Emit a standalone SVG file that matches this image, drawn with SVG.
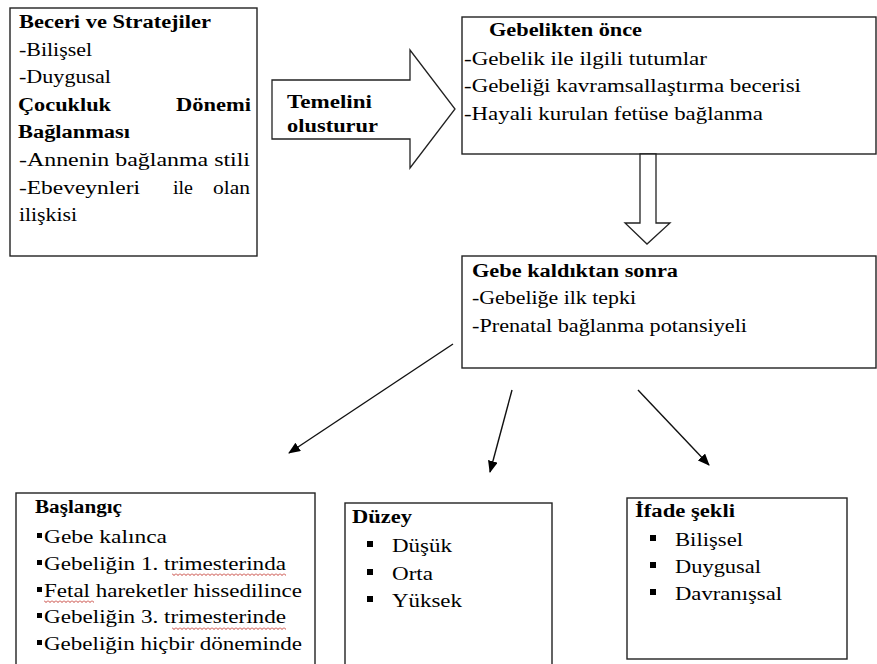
<svg xmlns="http://www.w3.org/2000/svg" width="877" height="664" viewBox="0 0 877 664">
<style>
.box{fill:#fff;stroke:#222;stroke-width:1.4}
.t{font-family:'Liberation Serif','Times New Roman','DejaVu Serif',serif;font-size:18px;fill:#000}
.b{font-weight:bold}
.blk{fill:#000}
.conn{fill:none;stroke:#111;stroke-width:1.4}
.big{fill:#fff;stroke:#222;stroke-width:1.3}
</style>
<defs>
<marker id="ah" markerWidth="12" markerHeight="10" refX="11" refY="5" orient="auto" markerUnits="userSpaceOnUse">
<path d="M0,0 L12,5 L0,10 Z" fill="#000"/>
</marker>
<pattern id="wave" patternUnits="userSpaceOnUse" width="4" height="3">
<polyline points="0,0.5 2,2.5 4,0.5" fill="none" stroke="#c0281e" stroke-width="0.9"/>
</pattern>
</defs>

<g id="node-beceri">
<rect class="box" x="10" y="8" width="247" height="248"/>
<text class="t b" x="19" y="28" textLength="192" lengthAdjust="spacingAndGlyphs">Beceri ve Stratejiler</text>
<text class="t" x="19" y="56" textLength="73" lengthAdjust="spacingAndGlyphs">-Bilişsel</text>
<text class="t" x="19" y="83" textLength="92" lengthAdjust="spacingAndGlyphs">-Duygusal</text>
<text class="t b" x="18" y="111" textLength="93" lengthAdjust="spacingAndGlyphs">Çocukluk</text>
<text class="t b" x="176" y="111" textLength="75" lengthAdjust="spacingAndGlyphs">Dönemi</text>
<text class="t b" x="18" y="138" textLength="112" lengthAdjust="spacingAndGlyphs">Bağlanması</text>
<text class="t" x="19" y="166" textLength="231" lengthAdjust="spacingAndGlyphs">-Annenin bağlanma stili</text>
<text class="t" x="19" y="194" textLength="121" lengthAdjust="spacingAndGlyphs">-Ebeveynleri</text>
<text class="t" x="173" y="194" textLength="20" lengthAdjust="spacingAndGlyphs">ile</text>
<text class="t" x="213" y="194" textLength="37" lengthAdjust="spacingAndGlyphs">olan</text>
<text class="t" x="19" y="221" textLength="58" lengthAdjust="spacingAndGlyphs">ilişkisi</text>
</g>

<g id="node-temelini">
<polygon class="big" points="272,80 410,80 410,50 455,109 410,168 410,139 272,139"/>
<text class="t b" x="287" y="108" textLength="85" lengthAdjust="spacingAndGlyphs">Temelini</text>
<text class="t b" x="287" y="132" textLength="91" lengthAdjust="spacingAndGlyphs">olusturur</text>
</g>

<g id="node-gebelikten">
<rect class="box" x="462" y="17" width="414" height="137"/>
<text class="t b" x="489" y="36" textLength="153" lengthAdjust="spacingAndGlyphs">Gebelikten önce</text>
<text class="t" x="464" y="65" textLength="243" lengthAdjust="spacingAndGlyphs">-Gebelik ile ilgili tutumlar</text>
<text class="t" x="464" y="92" textLength="337" lengthAdjust="spacingAndGlyphs">-Gebeliği kavramsallaştırma becerisi</text>
<text class="t" x="464" y="120" textLength="299" lengthAdjust="spacingAndGlyphs">-Hayali kurulan fetüse bağlanma</text>
</g>

<g id="node-gebekaldiktan">
<rect class="box" x="462" y="256" width="414" height="112"/>
<text class="t b" x="472" y="277" textLength="206" lengthAdjust="spacingAndGlyphs">Gebe kaldıktan sonra</text>
<text class="t" x="472" y="304" textLength="164" lengthAdjust="spacingAndGlyphs">-Gebeliğe ilk tepki</text>
<text class="t" x="472" y="332" textLength="275" lengthAdjust="spacingAndGlyphs">-Prenatal bağlanma potansiyeli</text>
</g>

<g id="node-baslangic">
<rect class="box" x="16" y="493" width="299" height="200"/>
<text class="t b" x="35" y="513" textLength="87" lengthAdjust="spacingAndGlyphs">Başlangıç</text>
<rect class="blk" x="37" y="533" width="5" height="5"/>
<text class="t" x="44" y="543" textLength="123" lengthAdjust="spacingAndGlyphs">Gebe kalınca</text>
<rect class="blk" x="37" y="560" width="5" height="5"/>
<text class="t" x="44" y="570" textLength="242" lengthAdjust="spacingAndGlyphs">Gebeliğin 1. trimesterinda</text>
<rect class="blk" x="37" y="587" width="5" height="5"/>
<text class="t" x="44" y="597" textLength="258" lengthAdjust="spacingAndGlyphs">Fetal hareketler hissedilince</text>
<rect class="blk" x="37" y="613" width="5" height="5"/>
<text class="t" x="44" y="623" textLength="242" lengthAdjust="spacingAndGlyphs">Gebeliğin 3. trimesterinde</text>
<rect class="blk" x="37" y="640" width="5" height="5"/>
<text class="t" x="44" y="650" textLength="258" lengthAdjust="spacingAndGlyphs">Gebeliğin hiçbir döneminde</text>
<rect x="172" y="573" width="114" height="3" fill="url(#wave)"/>
<rect x="44" y="600" width="50" height="3" fill="url(#wave)"/>
<rect x="172" y="627" width="114" height="3" fill="url(#wave)"/>
</g>

<g id="node-duzey">
<rect class="box" x="345" y="503" width="207" height="200"/>
<text class="t b" x="352" y="523" textLength="60" lengthAdjust="spacingAndGlyphs">Düzey</text>
<rect class="blk" x="367" y="541" width="6" height="6"/>
<text class="t" x="392" y="552" textLength="60" lengthAdjust="spacingAndGlyphs">Düşük</text>
<rect class="blk" x="367" y="569" width="6" height="6"/>
<text class="t" x="392" y="580" textLength="41" lengthAdjust="spacingAndGlyphs">Orta</text>
<rect class="blk" x="367" y="596" width="6" height="6"/>
<text class="t" x="392" y="607" textLength="70" lengthAdjust="spacingAndGlyphs">Yüksek</text>
</g>

<g id="node-ifade">
<rect class="box" x="627" y="498" width="220" height="161"/>
<text class="t b" x="635" y="517" textLength="100" lengthAdjust="spacingAndGlyphs">İfade şekli</text>
<rect class="blk" x="650" y="535" width="6" height="6"/>
<text class="t" x="675" y="546" textLength="68" lengthAdjust="spacingAndGlyphs">Bilişsel</text>
<rect class="blk" x="650" y="562" width="6" height="6"/>
<text class="t" x="675" y="573" textLength="86" lengthAdjust="spacingAndGlyphs">Duygusal</text>
<rect class="blk" x="650" y="589" width="6" height="6"/>
<text class="t" x="675" y="600" textLength="107" lengthAdjust="spacingAndGlyphs">Davranışsal</text>
</g>

<g id="connectors">
<polygon class="big" points="640,154 656,154 656,223 670,223 647,244 625,223 640,223"/>
<line class="conn" x1="453" y1="344" x2="289" y2="453" marker-end="url(#ah)"/>
<line class="conn" x1="512" y1="390" x2="490" y2="472" marker-end="url(#ah)"/>
<line class="conn" x1="638" y1="390" x2="709" y2="465" marker-end="url(#ah)"/>
</g>
</svg>
